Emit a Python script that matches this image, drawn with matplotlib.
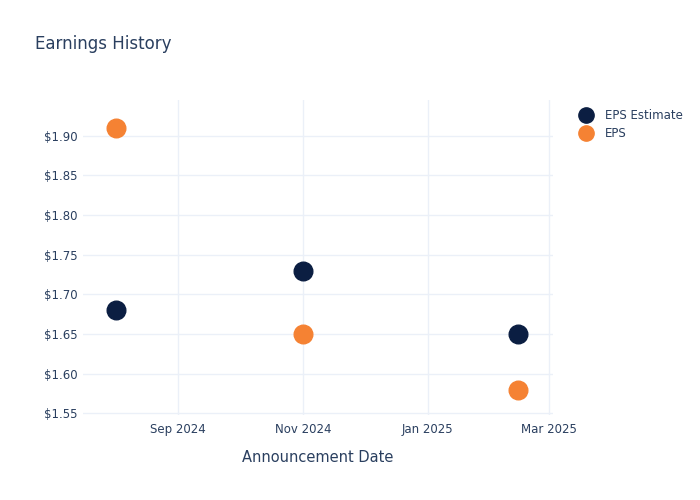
import pandas as pd
import matplotlib.pyplot as plt
import matplotlib.dates as mdates
from matplotlib.lines import Line2D

# données
dates = pd.to_datetime(["2024-08-02", "2024-11-01", "2025-02-14"])
eps_estimate = [1.68, 1.73, 1.65]
eps_actual = [1.91, 1.65, 1.58]
y_ticks = [1.55, 1.60, 1.65, 1.70, 1.75, 1.80, 1.85, 1.90]

text_color = "#2a3f5f"
grid_color = "#ebf0f8"
navy = "#0b1e42"
orange = "#f58233"

fig = plt.figure(figsize=(7, 5), dpi=100)
ax = fig.add_axes([0.119, 0.17, 0.671, 0.63])

ax.scatter(dates, eps_estimate, s=180, color=navy, zorder=3, label="EPS Estimate")
ax.scatter(dates, eps_actual, s=180, color=orange, zorder=3, label="EPS")

ax.set_xlim(pd.Timestamp("2024-07-17"), pd.Timestamp("2025-03-03"))
ax.set_ylim(1.548, 1.945)

ax.xaxis.set_major_locator(mdates.MonthLocator(bymonth=[1, 3, 9, 11]))
ax.xaxis.set_major_formatter(mdates.DateFormatter("%b %Y"))
ax.set_yticks(y_ticks)
ax.set_yticklabels([f"${v:.2f}" for v in y_ticks])

ax.grid(True, color=grid_color, linewidth=1)
ax.set_axisbelow(True)
for s in ax.spines.values():
    s.set_visible(False)
ax.tick_params(length=0, labelsize=8.5, colors=text_color, pad=6)
ax.tick_params(axis="y", pad=4)

ax.set_xlabel("Announcement Date", fontsize=10.5, color=text_color, labelpad=10)
fig.text(0.05, 0.912, "Earnings History", fontsize=12, color=text_color, va="center")

handles = [
    Line2D([], [], marker="o", linestyle="", markersize=11, color=navy),
    Line2D([], [], marker="o", linestyle="", markersize=11, color=orange),
]
fig.legend(handles, ["EPS Estimate", "EPS"], loc="upper left",
           bbox_to_anchor=(0.812, 0.803), frameon=False, fontsize=8.5,
           labelcolor=text_color, handletextpad=1.0, labelspacing=0.45,
           handlelength=1.2)

plt.savefig("out.png")
